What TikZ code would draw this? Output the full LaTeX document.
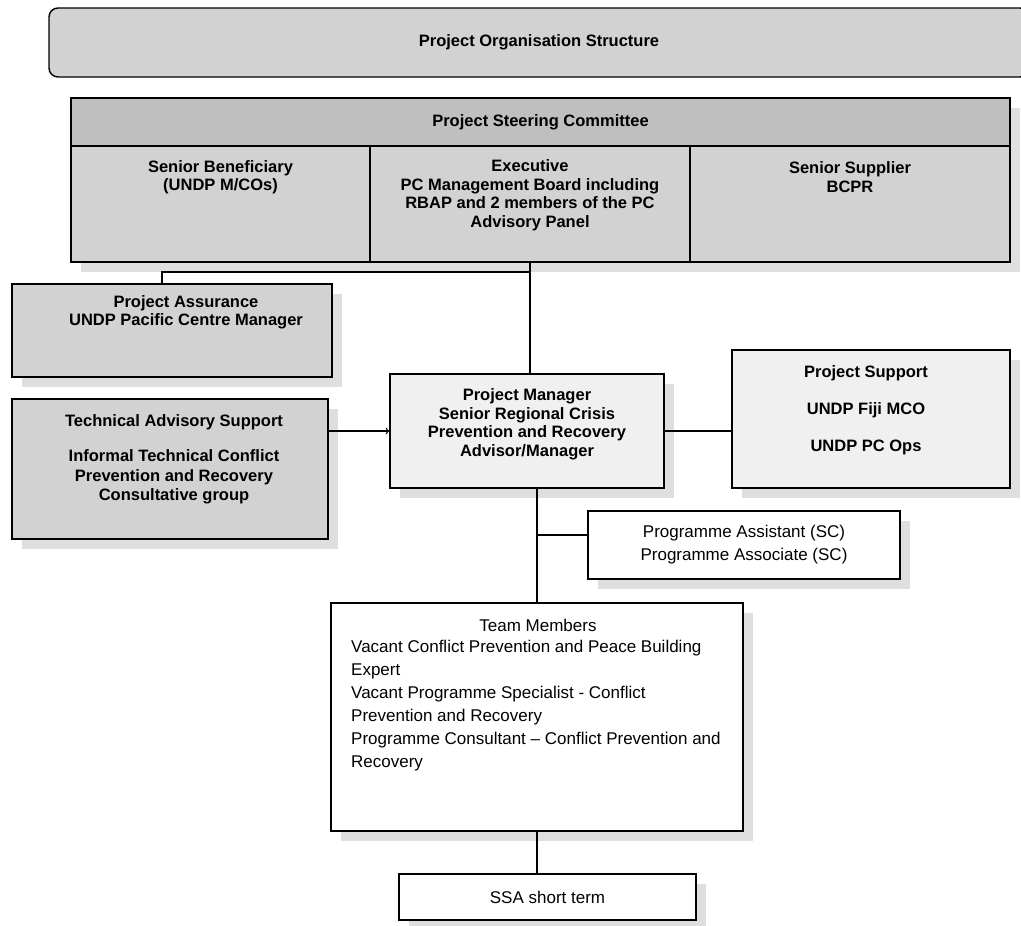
\documentclass[tikz,border=0pt]{standalone}
\usepackage{fontspec}
\setmainfont{Liberation Sans}
\usetikzlibrary{shadows}

\begin{document}
\begin{tikzpicture}[x=1pt, y=-1pt,
    box/.style={draw, line width=1.4pt, inner sep=0pt},
    shadowed/.style={drop shadow={shadow xshift=10pt, shadow yshift=-10pt, fill=gray!25, opacity=1}},
    dense/.style={fill=gray!35},
    sparse/.style={fill=gray!12},
    boldtxt/.style={align=center, inner sep=0pt, font=\bfseries\fontsize{16.5}{18.5}\selectfont},
    plaintxt/.style={align=center, inner sep=0pt, font=\fontsize{17}{23}\selectfont},
    link/.style={line width=1.3pt}]

  \useasboundingbox (0,0) rectangle (1021,926);

  \node[box, dense, rounded corners=9pt, minimum width=980, minimum height=69, boldtxt] (title) at (539,42.5) {Project Organisation Structure};

  % steering committee
  \node[box, dense, shadowed, minimum width=939, minimum height=164] (board) at (540.5,180) {};
  \node[box, fill=gray!50, minimum width=939, minimum height=48, boldtxt] (boardhead) at (540.5,122) {Project Steering Committee};
  \node[box, minimum width=299, minimum height=116] (benef) at (220.5,204) {};
  \node[box, minimum width=320, minimum height=116] (exec) at (530,204) {};
  \node[box, minimum width=320, minimum height=116] (supplier) at (850,204) {};
  \node[boldtxt] (beneftext) at (220.5,177) {Senior Beneficiary\\(UNDP M/COs)};
  \node[boldtxt] (exectext) at (530,195) {Executive\\PC Management Board including\\RBAP and 2 members of the PC\\Advisory Panel};
  \node[boldtxt] (suppliertext) at (850,177) {Senior Supplier\\BCPR};

  % assurance and advice
  \node[box, dense, shadowed, minimum width=320, minimum height=93] (assure) at (172,330.5) {};
  \node[boldtxt] (assuretext) at (186,312.5) {Project Assurance\\UNDP Pacific Centre Manager};
  \node[box, dense, shadowed, minimum width=316, minimum height=140] (techadv) at (170,469) {};
  \node[boldtxt, font=\bfseries\fontsize{16.5}{19.5}\selectfont] (techadvtext) at (174,459.5) {Technical Advisory Support\\[16pt]Informal Technical Conflict\\Prevention and Recovery\\Consultative group};

  % manager and support
  \node[box, sparse, shadowed, minimum width=274, minimum height=114] (manager) at (527,431) {};
  \node[boldtxt] (managertext) at (527,424.5) {Project Manager\\Senior Regional Crisis\\Prevention and Recovery\\Advisor/Manager};
  \node[box, sparse, shadowed, minimum width=278, minimum height=138] (support) at (871,419) {};
  \node[boldtxt, font=\bfseries\fontsize{16.5}{20}\selectfont] (supporttext) at (866,410) {Project Support\\[17pt]UNDP Fiji MCO\\[17pt]UNDP PC Ops};

  % team
  \node[box, fill=white, shadowed, minimum width=312, minimum height=68, plaintxt] (assist) at (744,545) {Programme Assistant (SC)\\Programme Associate (SC)};
  \node[box, fill=white, shadowed, minimum width=412, minimum height=228] (team) at (537,717) {};
  \node[plaintxt] (teamhead) at (538,625) {Team Members};
  \node[plaintxt, align=left, anchor=west] (teamlist) at (351,705.5) {Vacant Conflict Prevention and Peace Building\\Expert\\Vacant Programme Specialist - Conflict\\Prevention and Recovery\\Programme Consultant – Conflict Prevention and\\Recovery};
  \node[box, fill=white, shadowed, minimum width=297, minimum height=46, plaintxt] (ssa) at (547.5,897) {SSA short term};

  \coordinate (tee) at (530,272);
  \draw[link] (exec.south) -- (exec.south |- manager.north);
  \draw[link] ([xshift=-10pt]assure.north) |- (tee);
  \draw[link, ->] (techadv.east |- manager.west) -- (manager.west);
  \draw[link] (manager.east) -- (support.west |- manager.east);
  \draw[link] (manager.south -| team.north) -- (team.north);
  \draw[link] ([yshift=10pt]assist.west) -- ([yshift=10pt]assist.west -| team.north);
  \draw[link] (team.south) -- (team.south |- ssa.north);
\end{tikzpicture}
\end{document}
